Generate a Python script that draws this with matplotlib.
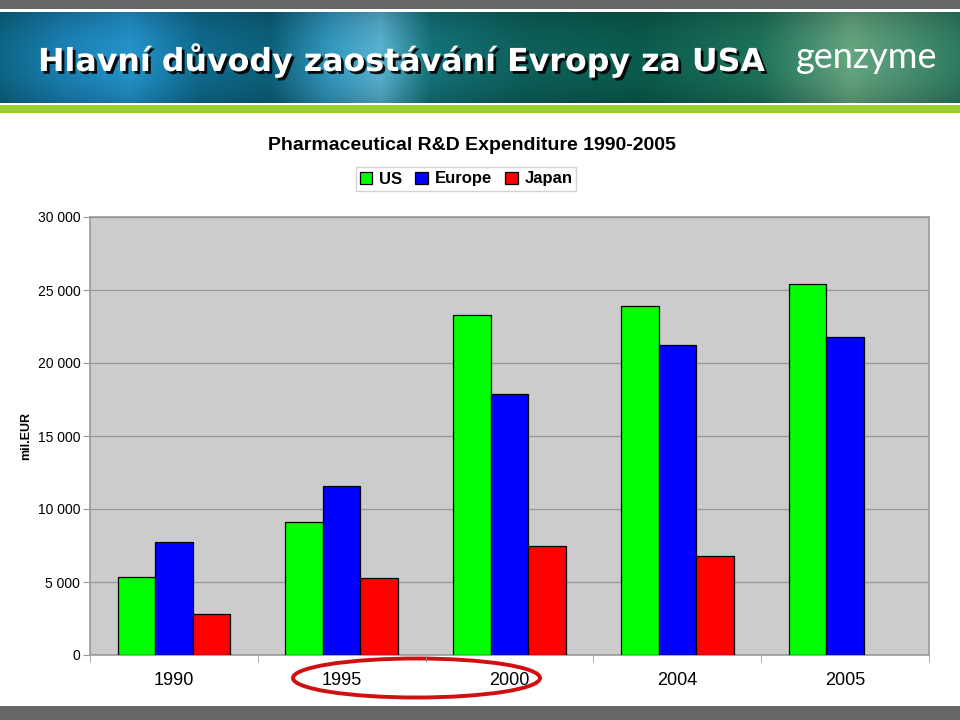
import numpy as np
import matplotlib
matplotlib.use("Agg")
import matplotlib.pyplot as plt
from matplotlib.patches import Rectangle, Ellipse
import matplotlib.patheffects as pe

plt.rcParams['font.family'] = ['Liberation Sans', 'DejaVu Sans']

years = ["1990", "1995", "2000", "2004", "2005"]
series = ["US", "Europe", "Japan"]
us = [5360, 9120, 23280, 23880, 25410]
europe = [7770, 11550, 17900, 21240, 21810]
japan = [2780, 5250, 7470, 6800, np.nan]
colors = ["#00ff00", "#0000ff", "#ff0000"]
yticks = [0, 5000, 10000, 15000, 20000, 25000, 30000]
ytick_labels = ["0", "5 000", "10 000", "15 000", "20 000", "25 000", "30 000"]

W, H = 960, 720
fig = plt.figure(figsize=(9.6, 7.2), dpi=100)
fig.patch.set_facecolor("white")

# decoration overlay in pixel coords
deco = fig.add_axes([0, 0, 1, 1], zorder=0)
deco.set_xlim(0, W)
deco.set_ylim(H, 0)
deco.axis("off")

deco.add_patch(Rectangle((0, 0), W, 9, color="#666666", lw=0))
deco.add_patch(Rectangle((0, 105), W, 8, color="#9acd32", lw=0))
deco.add_patch(Rectangle((0, 706), W, 14, color="#666666", lw=0))

# banner gradient
xs = np.arange(W)
stops_x = [0, 60, 130, 200, 270, 330, 380, 430, 520, 640, 760, 850, 900, 960]
stops_c = np.array([
    [0.05, 0.40, 0.52], [0.10, 0.50, 0.70], [0.14, 0.58, 0.80], [0.06, 0.42, 0.56],
    [0.05, 0.38, 0.48], [0.20, 0.60, 0.75], [0.35, 0.70, 0.82], [0.08, 0.45, 0.48],
    [0.05, 0.38, 0.36], [0.04, 0.36, 0.30], [0.12, 0.45, 0.36], [0.40, 0.65, 0.50],
    [0.30, 0.58, 0.45], [0.18, 0.48, 0.38]])
row = np.stack([np.interp(xs, stops_x, stops_c[:, k]) for k in range(3)], axis=-1)
ys = np.linspace(-1, 1, 91)
shade = (1 - 0.18 * ys ** 2)[:, None, None]
img = np.clip(row[None, :, :] * shade, 0, 1)
deco.imshow(img, extent=(0, W, 103, 12), aspect="auto", zorder=1)

deco.text(38, 60, "Hlavní důvody zaostávání Evropy za USA", color="white",
          fontsize=22.8, fontweight="bold", family=["DejaVu Sans"], va="center", ha="left",
          zorder=3,
          path_effects=[pe.withSimplePatchShadow(offset=(2, -2), shadow_rgbFace="black", alpha=0.9)])
deco.text(867, 58, "genzyme", color="white", fontsize=26, family=["Lato", "DejaVu Sans"],
          fontweight="normal", va="center", ha="center", zorder=3)

# red ellipse
deco.add_patch(Ellipse((416.5, 678), 247, 39, fill=False, edgecolor="#d01010", lw=2.8, zorder=5))

fig.text(472 / W, 1 - 145 / H, "Pharmaceutical R&D Expenditure 1990-2005",
         ha="center", va="center", fontsize=14, fontweight="bold")
fig.text(26 / W, 1 - 436 / H, "mil.EUR", rotation=90, ha="center", va="center",
         fontsize=9, fontweight="bold")

ax = fig.add_axes([90 / W, 1 - 655 / H, (929 - 90) / W, (655 - 217) / H], zorder=2)
ax.set_facecolor("#cccccc")
x = np.arange(len(years))
bw = 0.224
for i, (vals, c, name) in enumerate(zip([us, europe, japan], colors, series)):
    ax.bar(x + (i - 1) * bw, vals, width=bw, color=c, edgecolor="black", linewidth=0.9,
           label=name, zorder=3)

ax.set_xlim(-0.5, len(years) - 0.5)
ax.set_ylim(0, 30000)
ax.set_yticks(yticks)
ax.set_yticklabels(ytick_labels, fontsize=10)
ax.yaxis.grid(True, color="#9a9a9a", lw=1.0, zorder=1)
ax.set_axisbelow(True)
ax.set_xticks(x)
ax.set_xticklabels(years, fontsize=13)
ax.set_xticks(np.arange(-0.5, len(years)), minor=True)
ax.tick_params(axis="x", which="major", length=0, pad=12)
ax.tick_params(axis="x", which="minor", length=5, color="#999999", direction="out")
ax.tick_params(axis="y", length=5, color="#999999", direction="out", pad=2)
for s in ["left", "bottom", "top", "right"]:
    ax.spines[s].set_color("#999999")
    ax.spines[s].set_linewidth(1.2)

leg = fig.legend(loc="center", bbox_to_anchor=(466 / W, 1 - 179 / H), ncol=3,
                 prop={"size": 12, "weight": "bold"}, handlelength=0.75, handleheight=0.75,
                 handletextpad=0.4, columnspacing=0.8, borderpad=0.25, frameon=True,
                 fancybox=False, edgecolor="#c8c8c8")
leg.get_frame().set_linewidth(1.0)

fig.savefig("out.png", dpi=100, facecolor="white")
